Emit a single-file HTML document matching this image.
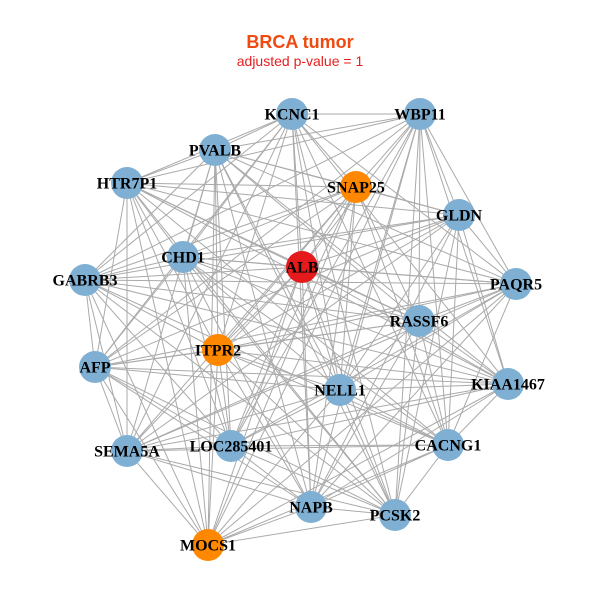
<!DOCTYPE html>
<html><head><meta charset="utf-8"><style>
html,body{margin:0;padding:0;background:#fff;width:600px;height:600px;overflow:hidden}
</style></head><body>
<svg id="s" width="600" height="600" xmlns="http://www.w3.org/2000/svg">
<rect width="600" height="600" fill="#fff"/>
<text x="300" y="48" text-anchor="middle" font-family="Liberation Sans, sans-serif" font-weight="bold" font-size="18" fill="#f04a10">BRCA tumor</text>
<text x="300" y="66" text-anchor="middle" font-family="Liberation Sans, sans-serif" font-size="14" fill="#e52020">adjusted p-value = 1</text>
<g id="e" stroke="#aaaaaa" stroke-width="1"></g>
<g id="n"></g>
</svg>
<script>
var N=[["KCNC1",292,114,"b"],["WBP11",420,114,"b"],["PVALB",215,150,"b"],["HTR7P1",127,183,"b"],["SNAP25",356,187,"o"],["GLDN",459,215,"b"],["CHD1",183,257,"b"],["ALB",302,267,"r"],["GABRB3",85,280,"b"],["PAQR5",516,284,"b"],["RASSF6",419,321,"b"],["ITPR2",218,350,"o"],["AFP",95,367,"b"],["NELL1",340,390,"b"],["KIAA1467",508,384,"b"],["LOC285401",231,446,"b"],["SEMA5A",127,451,"b"],["CACNG1",448,445,"b"],["NAPB",311,507,"b"],["PCSK2",395,515,"b"],["MOCS1",208,545,"o"]];
var C={b:"#7fb0d4",o:"#ff8800",r:"#e41a1c"};
var ns="http://www.w3.org/2000/svg",e=document.getElementById("e"),g=document.getElementById("n");
for(var i=0;i<N.length;i++)for(var j=i+1;j<N.length;j++){
 if(((i*7+j*3)%5)==0)continue;
 var l=document.createElementNS(ns,"line");
 l.setAttribute("x1",N[i][1]);l.setAttribute("y1",N[i][2]);l.setAttribute("x2",N[j][1]);l.setAttribute("y2",N[j][2]);e.appendChild(l);}
N.forEach(function(d){
 var c=document.createElementNS(ns,"circle");c.setAttribute("cx",d[1]);c.setAttribute("cy",d[2]);c.setAttribute("r",16);c.setAttribute("fill",C[d[3]]);g.appendChild(c);
 var t=document.createElementNS(ns,"text");t.setAttribute("x",d[1]);t.setAttribute("y",d[2]+5.5);t.setAttribute("text-anchor","middle");
 t.setAttribute("font-family","Liberation Serif, serif");t.setAttribute("font-weight","bold");t.setAttribute("font-size","16");t.textContent=d[0];g.appendChild(t);});
</script>
</body></html>
